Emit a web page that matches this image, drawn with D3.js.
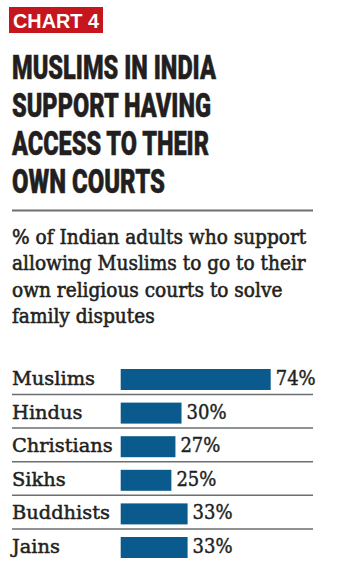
<!DOCTYPE html>
<html><head><meta charset="utf-8">
<script src="https://cdn.jsdelivr.net/npm/d3@7/dist/d3.min.js"></script>
<style>html,body{margin:0;padding:0;background:#fff;}svg{display:block;}</style>
</head><body>
<script>
const tag = "CHART 4";
const titleLines = ["MUSLIMS IN INDIA", "SUPPORT HAVING", "ACCESS TO THEIR", "OWN COURTS"];
const subtitleLines = ["% of Indian adults who support", "allowing Muslims to go to their", "own religious courts to solve", "family disputes"];
const categories = ["Muslims", "Hindus", "Christians", "Sikhs", "Buddhists", "Jains"];
const values = [74, 30, 27, 25, 33, 33];
const valueLabels = ["74%", "30%", "27%", "25%", "33%", "33%"];

const W = 337, H = 565;
const svg = d3.select("body").append("svg").attr("width", W).attr("height", H);
const dark = "#231f20";

// tag box
svg.append("rect").attr("x", 9).attr("y", 7).attr("width", 94).attr("height", 26).attr("fill", "#c4161c");
svg.append("text").attr("x", 13).attr("y", 28).text(tag)
  .attr("font-family", "Liberation Sans, Arial, sans-serif").attr("font-weight", 700)
  .attr("font-size", 20).attr("fill", "#fff").attr("textLength", 86).attr("lengthAdjust", "spacingAndGlyphs");

// title
const titleW = [204, 199, 197, 153];
svg.append("g").selectAll("text").data(titleLines).join("text")
  .attr("x", 12).attr("y", (d, i) => 79 + i * 38)
  .text(d => d)
  .attr("font-family", "Roboto, sans-serif").attr("font-weight", 900)
  .attr("font-size", 33).attr("fill", dark)
  .attr("stroke", dark).attr("stroke-width", 0.5)
  .attr("textLength", (d, i) => titleW[i]).attr("lengthAdjust", "spacingAndGlyphs");

// divider
svg.append("line").attr("x1", 12).attr("x2", 313).attr("y1", 210.5).attr("y2", 210.5)
  .attr("stroke", "#6d6e71").attr("stroke-width", 2);

// subtitle
const serifC = "'DejaVu Serif Condensed', 'DejaVu Serif', serif";
const serif = "'DejaVu Serif', serif";
svg.append("g").selectAll("text").data(subtitleLines).join("text")
  .attr("x", 12).attr("y", (d, i) => 244 + i * 26.3)
  .text(d => d)
  .attr("font-family", serifC).attr("font-stretch", "condensed").attr("font-weight", 400)
  .attr("font-size", 20.6).attr("fill", dark)
  .attr("stroke", dark).attr("stroke-width", 0.55);

// bars
const y = d3.scaleBand().domain(categories).range([362, 362 + 33.6 * categories.length]).padding(0);
const x = d3.scaleLinear().domain([0, 100]).range([120.7, 120.7 + 202.7]);
const rows = categories.map((c, i) => ({c, v: values[i], l: valueLabels[i], i}));

const g = svg.append("g");
g.selectAll("line.sep").data(rows.slice(0, -1)).join("line").attr("class", "sep")
  .attr("x1", 12).attr("x2", 313)
  .attr("y1", d => y(d.c) + 32.5).attr("y2", d => y(d.c) + 32.5)
  .attr("stroke", "#6d6e71").attr("stroke-width", 1.5);
g.selectAll("rect.bar").data(rows).join("rect").attr("class", "bar")
  .attr("x", x(0)).attr("y", d => y(d.c) + 7)
  .attr("width", d => x(d.v) - x(0)).attr("height", 21)
  .attr("fill", "#0b5a8e");
g.selectAll("text.cat").data(rows).join("text").attr("class", "cat")
  .attr("x", 12).attr("y", d => y(d.c) + 23).text(d => d.c)
  .attr("font-family", serif).attr("font-size", 19.4).attr("fill", dark)
  .attr("stroke", dark).attr("stroke-width", 0.5);
g.selectAll("text.val").data(rows).join("text").attr("class", "val")
  .attr("x", d => x(d.v) + 5).attr("y", d => y(d.c) + 23).text(d => d.l)
  .attr("font-family", serifC).attr("font-stretch", "condensed").attr("font-size", 20).attr("fill", dark)
  .attr("stroke", dark).attr("stroke-width", 0.4);
</script>
</body></html>
